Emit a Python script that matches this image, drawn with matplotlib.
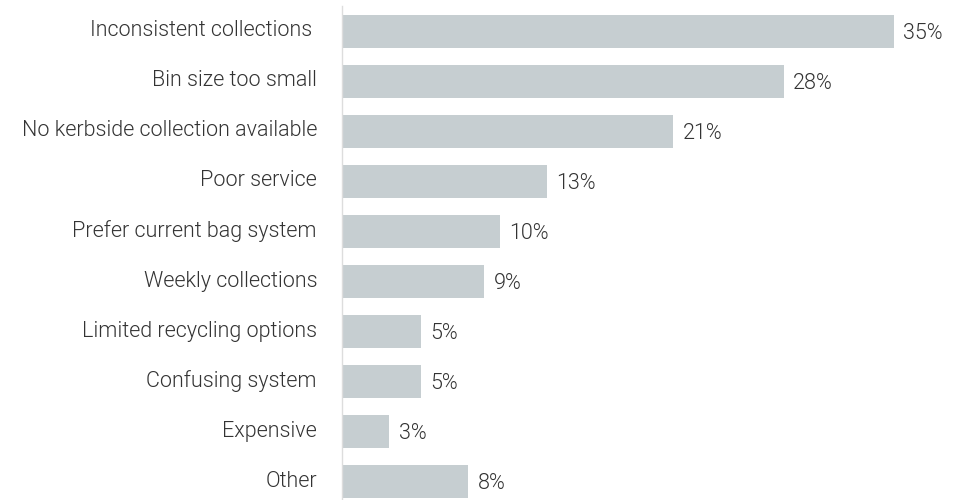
import matplotlib
matplotlib.use('Agg')
import matplotlib.pyplot as plt
import matplotlib.transforms as mtransforms
import numpy as np

# Reasons given, top to bottom, with share of respondents (%)
reasons = [
    "Inconsistent collections ",
    "Bin size too small",
    "No kerbside collection available",
    "Poor service",
    "Prefer current bag system",
    "Weekly collections",
    "Limited recycling options",
    "Confusing system",
    "Expensive",
    "Other",
]
shares = [35, 28, 21, 13, 10, 9, 5, 5, 3, 8]

plt.rcParams['font.family'] = ['Roboto', 'DejaVu Sans']

BAR_COLOR = '#c6ced1'
TEXT_COLOR = '#333333'
FONT = dict(fontsize=15.5, fontweight=300, color=TEXT_COLOR)

fig = plt.figure(figsize=(9.68, 5.0), dpi=100)
ax = fig.add_axes([342 / 968, 0, 626 / 968, 493.5 / 500])

y = np.arange(len(reasons))
ax.barh(y, shares, height=0.66, color=BAR_COLOR, zorder=2)

# value labels just past the end of each bar
for yi, v in zip(y, shares):
    ax.text(v + 0.6, yi + 0.04, f"{v}%", va='center', ha='left', **FONT)

# category labels, right-aligned left of the axis line
trans = mtransforms.blended_transform_factory(ax.transAxes, ax.transData)
for yi, name in zip(y, reasons):
    ax.text(-25 / 626, yi - 0.01, name, va='center', ha='right',
            transform=trans, **FONT)

ax.set_xlim(0, 35 * 626 / 552)
ax.set_ylim(-0.5 + 493.5 / 50, -0.5)
ax.set_xticks([])
ax.set_yticks([])

for side in ['top', 'right', 'bottom']:
    ax.spines[side].set_visible(False)
ax.spines['left'].set_color('#dddddd')
ax.spines['left'].set_linewidth(1)

fig.savefig('out.png', dpi=100)
